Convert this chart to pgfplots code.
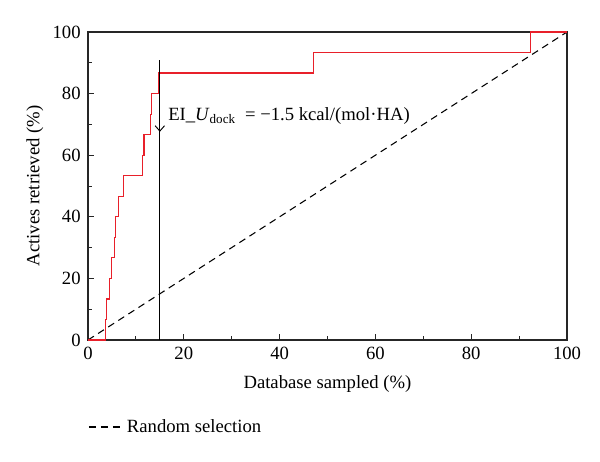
\documentclass[border=0pt]{standalone}
\usepackage{fontspec}
\setmainfont{Liberation Serif}
\usepackage{pgfplots}
\pgfplotsset{compat=1.18}
\usetikzlibrary{arrows.meta}
\definecolor{curvered}{HTML}{E8202A}
\begin{document}
\begin{tikzpicture}
\begin{axis}[
  scale only axis,
  width=359.25pt, height=231pt,
  xmin=0, xmax=100, ymin=0, ymax=100,
  xtick={0,20,...,100}, ytick={0,20,...,100},
  minor tick num=1,
  tick pos=left, tick align=inside,
  major tick length=4.5pt, minor tick length=3pt,
  axis line style={line width=0.9pt, black!85},
  tick style={line width=0.7pt, black!85},
  /pgf/number format/assume math mode=true,
  ticklabel style={font=\fontsize{14}{16}\selectfont},
  xticklabel style={yshift=-2pt},
  yticklabel style={xshift=-2pt},
  label style={font=\fontsize{14}{16}\selectfont},
  xlabel={Database sampled (\%)},
  ylabel={Actives retrieved (\%)},
  xlabel style={yshift=-4.5pt},
  ylabel style={yshift=0pt},
  clip=false,
  legend style={at={(0,-0.2825)}, anchor=west, draw=none, fill=none, inner sep=0pt,
    font=\fontsize{14}{16}\selectfont},
  legend cell align=left,
  legend image code/.code={\draw[#1] (0pt,0pt) -- (23.25pt,0pt);},
]
\addplot[black, line width=0.8pt, dash pattern=on 5.25pt off 3.75pt] coordinates {(0,0) (100,100)};
\addlegendentry{\hspace{3pt}Random selection}
\addplot[curvered, line width=0.85pt, forget plot] coordinates {
(0,0) (3.6,0) (3.6,6.67) (3.9,6.67) (3.9,13.33) (4.4,13.33) (4.4,20) (4.9,20)
(4.9,26.67) (5.5,26.67) (5.5,33.33) (5.7,33.33) (5.7,40) (6.3,40) (6.3,46.67)
(7.4,46.67) (7.4,53.33) (11.3,53.33) (11.3,60) (11.7,60) (11.7,66.67) (13.1,66.67)
(13.1,73.33) (13.3,73.33) (13.3,80) (14.8,80) (14.8,86.67) (47,86.67) (47,93.33)
(92.3,93.33) (92.3,100) (100,100)};
\addplot[black, line width=0.8pt, forget plot] coordinates {(15,0) (15,91)};
\addplot[black, line width=0.7pt, forget plot, -{Straight Barb[length=4pt,width=7pt]}] coordinates {(15,73) (15,67.6)};
\node[anchor=base west, font=\fontsize{14}{16}\selectfont, inner sep=0pt] at (axis cs:16.7,71.2)
  {EI\_\textit{U}\textsubscript{dock} \ = −1.5 kcal/(mol·HA)};
\end{axis}
\path ([shift={(-66pt,-90.75pt)}]current axis.south west) rectangle ([shift={(24.75pt,24pt)}]current axis.north east);
\end{tikzpicture}
\end{document}
